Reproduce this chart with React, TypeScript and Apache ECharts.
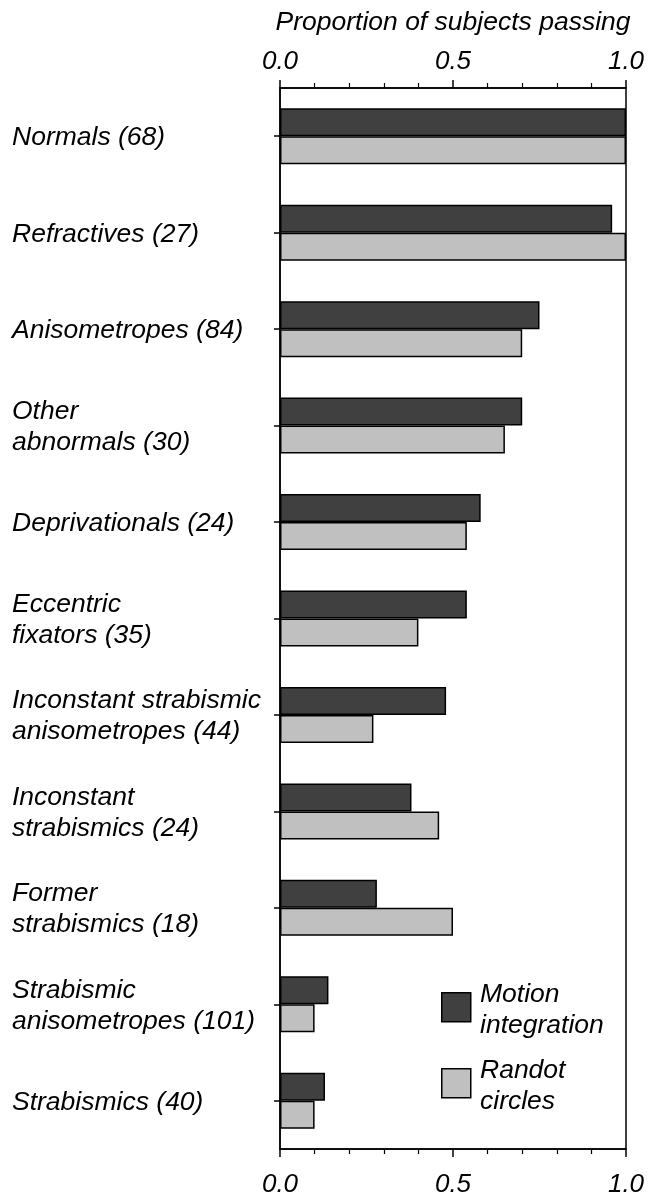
import React, { useEffect, useRef } from "react";
import * as echarts from "echarts";

const categories = [
  "Normals (68)",
  "Refractives (27)",
  "Anisometropes (84)",
  "Other\nabnormals (30)",
  "Deprivationals (24)",
  "Eccentric\nfixators (35)",
  "Inconstant strabismic\nanisometropes (44)",
  "Inconstant\nstrabismics (24)",
  "Former\nstrabismics (18)",
  "Strabismic\nanisometropes (101)",
  "Strabismics (40)",
];
const motionIntegration = [1.0, 0.96, 0.75, 0.7, 0.58, 0.54, 0.48, 0.38, 0.28, 0.14, 0.13];
const randotCircles = [1.0, 1.0, 0.7, 0.65, 0.54, 0.4, 0.27, 0.46, 0.5, 0.1, 0.1];
const seriesNames = ["Motion\nintegration", "Randot\ncircles"];
const tickLabels = ["0.0", "0.5", "1.0"];

const DARK = "#404040";
const LIGHT = "#c0c0c0";
const FONT = "'Liberation Sans', Arial, Helvetica, sans-serif";

export default function App() {
  const ref = useRef<HTMLDivElement>(null);
  useEffect(() => {
    if (!ref.current) return;
    const chart = echarts.init(ref.current, null, { renderer: "svg" });
    const fmt = (v: number) => {
      const i = Math.round(v * 2);
      return Math.abs(v * 2 - i) < 1e-6 ? tickLabels[i] : "";
    };
    const xAxisCommon = {
      type: "value",
      min: 0,
      max: 1,
      interval: 0.5,
      splitLine: { show: false },
      axisLine: { show: true, lineStyle: { color: "#000", width: 1.5 } },
      axisTick: { show: true, length: 8, lineStyle: { color: "#000", width: 1.5 } },
      minorTick: { show: true, splitNumber: 5, length: 5, lineStyle: { color: "#000", width: 1.2 } },
      minorSplitLine: { show: false },
    };
    const tickLabelStyle = { fontSize: 26, fontStyle: "italic", color: "#000", fontFamily: FONT, formatter: fmt };
    chart.setOption({
      animation: false,
      textStyle: { fontFamily: FONT },
      grid: {
        left: 280,
        right: 22,
        top: 88,
        bottom: 48,
        show: true,
        borderColor: "#000",
        borderWidth: 1.5,
        backgroundColor: "transparent",
      },
      xAxis: [
        {
          ...xAxisCommon,
          position: "top",
          name: "Proportion of subjects passing",
          nameLocation: "middle",
          nameGap: 54,
          nameTextStyle: { fontSize: 26.5, fontStyle: "italic", color: "#000", fontFamily: FONT },
          axisLabel: { ...tickLabelStyle, margin: 15 },
        },
        {
          ...xAxisCommon,
          position: "bottom",
          axisLabel: { ...tickLabelStyle, margin: 21 },
        },
      ],
      yAxis: {
        type: "category",
        data: categories,
        inverse: true,
        boundaryGap: true,
        axisLine: { show: true, lineStyle: { color: "#000", width: 1.5 } },
        axisTick: { show: true, alignWithLabel: true, length: 6, lineStyle: { color: "#000", width: 1.5 } },
        axisLabel: {
          align: "left",
          margin: 268,
          fontSize: 26.5,
          lineHeight: 31,
          fontStyle: "italic",
          color: "#000",
          fontFamily: FONT,
          interval: 0,
        },
      },
      series: [
        {
          name: seriesNames[0],
          type: "bar",
          xAxisIndex: 0,
          data: motionIntegration,
          barWidth: 28,
          barGap: "0%",
          itemStyle: { color: DARK, borderColor: "#000", borderWidth: 1.5 },
        },
        {
          name: seriesNames[1],
          type: "bar",
          xAxisIndex: 0,
          data: randotCircles,
          barWidth: 28,
          barGap: "0%",
          itemStyle: { color: LIGHT, borderColor: "#000", borderWidth: 1.5 },
        },
      ],
      graphic: [
        { type: "rect", left: 441, top: 992, shape: { width: 29, height: 29 }, style: { fill: DARK, stroke: "#000", lineWidth: 1.5 } },
        {
          type: "text",
          left: 480,
          top: 977,
          style: { text: seriesNames[0], font: `italic 26.5px ${FONT}`, lineHeight: 31, fill: "#000" },
        },
        { type: "rect", left: 441, top: 1068, shape: { width: 29, height: 29 }, style: { fill: LIGHT, stroke: "#000", lineWidth: 1.5 } },
        {
          type: "text",
          left: 480,
          top: 1053,
          style: { text: seriesNames[1], font: `italic 26.5px ${FONT}`, lineHeight: 31, fill: "#000" },
        },
      ],
    });
    return () => chart.dispose();
  }, []);
  return <div ref={ref} style={{ position: "fixed", left: 0, top: 0, width: 648, height: 1197 }} />;
}
